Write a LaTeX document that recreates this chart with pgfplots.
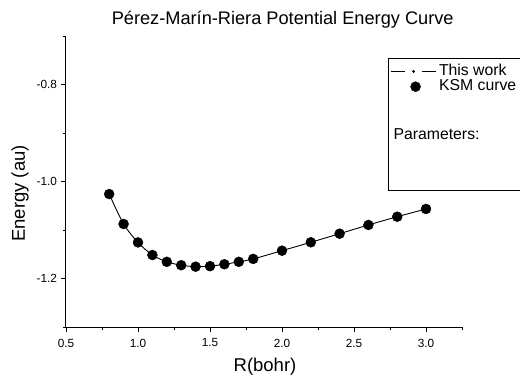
\documentclass[border=0pt]{standalone}
\usepackage{fontspec}
\setmainfont{Liberation Sans}
\usepackage{pgfplots}
\pgfplotsset{compat=1.18}
\pgfplotsset{
  dashdotlegend/.style={legend image code/.code={
    \draw[black, line width=0.9pt] (0pt,0pt) -- (14pt,0pt);
    \fill[black] (23pt,0pt) circle (0.9pt);
    \draw[black, line width=0.9pt] (31pt,0pt) -- (45pt,0pt);
  }},
  dotlegend/.style={legend image code/.code={
    \draw[mark repeat=2, mark phase=2, ##1] plot coordinates {(0pt,0pt) (25pt,0pt) (50pt,0pt)};
  }},
}
\begin{document}
\begin{tikzpicture}
\begin{axis}[
  scale only axis, width=396pt, height=291pt,
  at={(0pt,0pt)}, anchor=south west,
  xmin=0.5, xmax=3.25, ymin=-1.3, ymax=-0.7,
  axis lines*=left,
  axis line style={line width=1pt},
  tick align=outside,
  tick style={black, line width=0.9pt},
  major tick length=5pt, minor tick length=3pt,
  xtick={0.5,1.0,1.5,2.0,2.5,3.0},
  xticklabels={0.5,1.0,1.5,2.0,2.5,3.0},
  minor xtick={0.75,1.25,1.75,2.25,2.75,3.25},
  ytick={-1.2,-1.0,-0.8},
  yticklabels={-1.2,-1.0,-0.8},
  minor ytick={-1.3,-1.1,-0.9,-0.7},
  tick label style={font=\fontsize{11.8}{13}\selectfont},
  xticklabel style={yshift=-3pt},
  yticklabel style={xshift=-0.5pt},
  clip=false,
  legend cell align=left,
  legend style={draw=none, fill=none, at={(axis description cs:0.818,0.905)}, anchor=north west,
    inner sep=0pt, row sep=0.8pt, column sep=3pt,
    nodes={inner sep=0pt, text height=11pt, text depth=3.5pt, font=\fontsize{15.8}{18}\selectfont}},
]
\addplot[black, line width=0.9pt, smooth, tension=0.5, dashdotlegend] coordinates {
(0.8,-1.0253) (0.9,-1.087) (1.0,-1.125) (1.1,-1.151) (1.2,-1.165) (1.3,-1.172)
(1.4,-1.175) (1.5,-1.174) (1.6,-1.170) (1.7,-1.165) (1.8,-1.159) (2.0,-1.142)
(2.2,-1.1247) (2.4,-1.107) (2.6,-1.089) (2.8,-1.072) (3.0,-1.056)
};
\addlegendentry{This work}
\addplot[only marks, mark=*, mark size=5pt, black, dotlegend] coordinates {
(0.8,-1.0253) (0.9,-1.087) (1.0,-1.125) (1.1,-1.151) (1.2,-1.165) (1.3,-1.172)
(1.4,-1.175) (1.5,-1.174) (1.6,-1.170) (1.7,-1.165) (1.8,-1.159) (2.0,-1.142)
(2.2,-1.1247) (2.4,-1.107) (2.6,-1.089) (2.8,-1.072) (3.0,-1.056)
};
\addlegendentry{KSM curve}
\end{axis}
\draw[line width=0.9pt] (453.8pt,269pt) -- (322.3pt,269pt) -- (322.3pt,137.3pt) -- (453.8pt,137.3pt);
\node[anchor=base west, inner sep=0pt, font=\fontsize{15.8}{18}\selectfont] at (327.3pt,188pt) {Parameters:};
\node[anchor=base, inner sep=0pt, font=\fontsize{18.2}{21}\selectfont] at (216.7pt,302.3pt) {Pérez-Marín-Riera Potential Energy Curve};
\node[anchor=center, rotate=90, inner sep=0pt, font=\fontsize{18.5}{22}\selectfont] at (-46pt,133.8pt) {Energy (au)};
\node[anchor=base, inner sep=0pt, font=\fontsize{18.5}{22}\selectfont] at (199pt,-44.4pt) {R(bohr)};
\pgfresetboundingbox
\path[use as bounding box] (-66pt,-51.7pt) rectangle (454pt,327.3pt);
\end{tikzpicture}
\end{document}
